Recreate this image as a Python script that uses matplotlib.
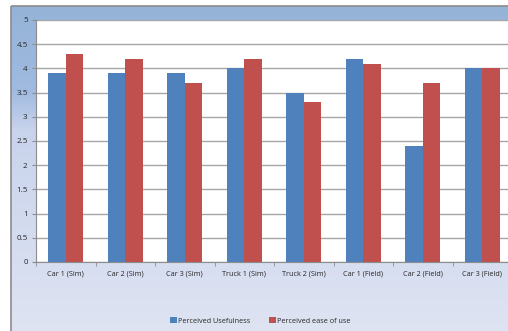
import numpy as np
import matplotlib
matplotlib.use("Agg")
import matplotlib.pyplot as plt
from matplotlib.patches import Rectangle

# data
categories = ['Car 1 (Sim)', 'Car 2 (Sim)', 'Car 3 (Sim)', 'Truck 1 (Sim)',
              'Truck 2 (Sim)', 'Car 1 (Field)', 'Car 2 (Field)', 'Car 3 (Field)']
usefulness = [3.9, 3.9, 3.9, 4.0, 3.5, 4.2, 2.4, 4.0]
ease_of_use = [4.3, 4.2, 3.7, 4.2, 3.3, 4.1, 3.7, 4.0]

W, H = 508, 331
fig = plt.figure(figsize=(W / 100, H / 100), dpi=100)
plt.rcParams['font.family'] = ['Open Sans', 'DejaVu Sans']

# chart area background: vertical gradient inside a grey border
bg = fig.add_axes([0, 0, 1, 1], zorder=0)
bg.set_xlim(0, W)
bg.set_ylim(H, 0)
bg.axis('off')
stops_y = [6, 90, 130, 336]
stops_c = np.array([[149, 179, 215], [160, 186, 224], [200, 211, 236], [223, 228, 242]]) / 255
ys = np.linspace(6, 336, 330)
grad = np.stack([np.interp(ys, stops_y, stops_c[:, k]) for k in range(3)], axis=1)[:, None, :]
bg.imshow(grad, extent=[11, W + 5, 336, 6], aspect='auto', zorder=0)
bg.add_patch(Rectangle((11, 6), W, H, fill=False, edgecolor='#8c8c8c', lw=1.2, zorder=1))

# plot area
left, right = 36 / W, 512 / W
bottom, topy = 1 - 262 / H, 1 - 20 / H
ax = fig.add_axes([left, bottom, right - left, topy - bottom], zorder=2)
ax.set_facecolor('white')

x = np.arange(len(categories))
w = 0.295
ax.bar(x - w / 2, usefulness, w, color='#4f81bd', label='Perceived Usefulness', zorder=3)
ax.bar(x + w / 2, ease_of_use, w, color='#c0504d', label='Perceived ease of use', zorder=3)

ax.set_xlim(-0.5, len(categories) - 0.5)
ax.set_ylim(0, 5)
ax.set_yticks(np.arange(0, 5.01, 0.5))
ax.set_yticklabels(['0', '0.5', '1', '1.5', '2', '2.5', '3', '3.5', '4', '4.5', '5'])
ax.yaxis.grid(True, color='#a6a6a6', lw=1.0)
ax.set_axisbelow(True)

ax.set_xticks(x)
ax.set_xticklabels(categories)
ax.set_xticks(np.arange(-0.5, len(categories), 1), minor=True)
ax.tick_params(axis='x', which='major', length=0, labelsize=5.2, pad=6, colors='#262626')
ax.tick_params(axis='x', which='minor', length=3, color='#8c8c8c')
ax.tick_params(axis='y', length=3, labelsize=5.8, pad=3, colors='#8c8c8c', labelcolor='#262626')

for s in ['top', 'right']:
    ax.spines[s].set_visible(False)
ax.spines['left'].set_color('#8c8c8c')
ax.spines['bottom'].set_color('#8c8c8c')

leg = fig.legend(loc='center', bbox_to_anchor=(0.513, 1 - 321 / H), ncol=2, frameon=False,
                 fontsize=5.2, handlelength=0.9, handleheight=0.9, handletextpad=0.2,
                 columnspacing=2.6)
for txt in leg.get_texts():
    txt.set_color('#262626')

fig.savefig('out.png', dpi=100)
